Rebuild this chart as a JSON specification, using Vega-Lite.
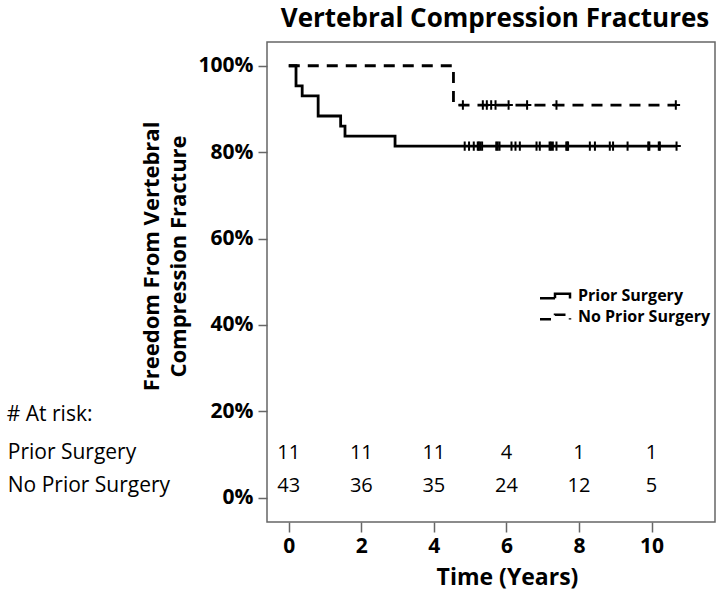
{
  "$schema": "https://vega.github.io/schema/vega-lite/v6.json",
  "width": 448,
  "height": 480,
  "autosize": {"type": "none"},
  "padding": {"left": 267, "top": 42, "right": 9, "bottom": 78},
  "background": "white",
  "config": {
    "view": {"stroke": "#666666", "strokeWidth": 1.5},
    "font": "Open Sans",
    "axis": {
      "grid": false,
      "domain": false,
      "tickColor": "#666666",
      "tickWidth": 1.5,
      "labelFont": "Open Sans",
      "labelFontWeight": "bold",
      "labelFontSize": 21,
      "labelColor": "black",
      "titleFont": "Open Sans",
      "titleColor": "black",
      "titleFontWeight": "bold"
    },
    "legend": {"padding": 0}
  },
  "title": {
    "text": "Vertebral Compression Fractures",
    "font": "Open Sans",
    "fontSize": 26,
    "fontWeight": "bold",
    "color": "black",
    "offset": 10,
    "dx": 4
  },
  "datasets": {
    "km": [
      {"group": "Prior Surgery", "t": 0, "s": 1},
      {"group": "Prior Surgery", "t": 0.2, "s": 0.9535},
      {"group": "Prior Surgery", "t": 0.37, "s": 0.9302},
      {"group": "Prior Surgery", "t": 0.81, "s": 0.8837},
      {"group": "Prior Surgery", "t": 1.43, "s": 0.8605},
      {"group": "Prior Surgery", "t": 1.55, "s": 0.8372},
      {"group": "Prior Surgery", "t": 2.93, "s": 0.814},
      {"group": "Prior Surgery", "t": 10.69, "s": 0.814},
      {"group": "No Prior Surgery", "t": 0, "s": 1},
      {"group": "No Prior Surgery", "t": 4.54, "s": 0.9091},
      {"group": "No Prior Surgery", "t": 10.67, "s": 0.9091}
    ],
    "censor": [
      {"group": "Prior Surgery", "t": 4.85, "s": 0.814},
      {"group": "Prior Surgery", "t": 4.97, "s": 0.814},
      {"group": "Prior Surgery", "t": 5.1, "s": 0.814},
      {"group": "Prior Surgery", "t": 5.21, "s": 0.814},
      {"group": "Prior Surgery", "t": 5.24, "s": 0.814},
      {"group": "Prior Surgery", "t": 5.28, "s": 0.814},
      {"group": "Prior Surgery", "t": 5.33, "s": 0.814},
      {"group": "Prior Surgery", "t": 5.72, "s": 0.814},
      {"group": "Prior Surgery", "t": 5.76, "s": 0.814},
      {"group": "Prior Surgery", "t": 5.81, "s": 0.814},
      {"group": "Prior Surgery", "t": 6.14, "s": 0.814},
      {"group": "Prior Surgery", "t": 6.25, "s": 0.814},
      {"group": "Prior Surgery", "t": 6.37, "s": 0.814},
      {"group": "Prior Surgery", "t": 6.83, "s": 0.814},
      {"group": "Prior Surgery", "t": 6.92, "s": 0.814},
      {"group": "Prior Surgery", "t": 7.19, "s": 0.814},
      {"group": "Prior Surgery", "t": 7.23, "s": 0.814},
      {"group": "Prior Surgery", "t": 7.28, "s": 0.814},
      {"group": "Prior Surgery", "t": 7.38, "s": 0.814},
      {"group": "Prior Surgery", "t": 7.65, "s": 0.814},
      {"group": "Prior Surgery", "t": 7.68, "s": 0.814},
      {"group": "Prior Surgery", "t": 7.7, "s": 0.814},
      {"group": "Prior Surgery", "t": 8.3, "s": 0.814},
      {"group": "Prior Surgery", "t": 8.44, "s": 0.814},
      {"group": "Prior Surgery", "t": 8.85, "s": 0.814},
      {"group": "Prior Surgery", "t": 8.94, "s": 0.814},
      {"group": "Prior Surgery", "t": 9.34, "s": 0.814},
      {"group": "Prior Surgery", "t": 9.91, "s": 0.814},
      {"group": "Prior Surgery", "t": 9.94, "s": 0.814},
      {"group": "Prior Surgery", "t": 10.2, "s": 0.814},
      {"group": "Prior Surgery", "t": 10.23, "s": 0.814},
      {"group": "Prior Surgery", "t": 10.69, "s": 0.814},
      {"group": "No Prior Surgery", "t": 4.8, "s": 0.9091},
      {"group": "No Prior Surgery", "t": 5.35, "s": 0.9091},
      {"group": "No Prior Surgery", "t": 5.46, "s": 0.9091},
      {"group": "No Prior Surgery", "t": 5.58, "s": 0.9091},
      {"group": "No Prior Surgery", "t": 5.7, "s": 0.9091},
      {"group": "No Prior Surgery", "t": 6.06, "s": 0.9091},
      {"group": "No Prior Surgery", "t": 6.57, "s": 0.9091},
      {"group": "No Prior Surgery", "t": 7.38, "s": 0.9091},
      {"group": "No Prior Surgery", "t": 10.67, "s": 0.9091}
    ],
    "risk": [
      {"group": "Prior Surgery", "t": 0, "n": 11},
      {"group": "Prior Surgery", "t": 2, "n": 11},
      {"group": "Prior Surgery", "t": 4, "n": 11},
      {"group": "Prior Surgery", "t": 6, "n": 4},
      {"group": "Prior Surgery", "t": 8, "n": 1},
      {"group": "Prior Surgery", "t": 10, "n": 1},
      {"group": "No Prior Surgery", "t": 0, "n": 43},
      {"group": "No Prior Surgery", "t": 2, "n": 36},
      {"group": "No Prior Surgery", "t": 4, "n": 35},
      {"group": "No Prior Surgery", "t": 6, "n": 24},
      {"group": "No Prior Surgery", "t": 8, "n": 12},
      {"group": "No Prior Surgery", "t": 10, "n": 5}
    ],
    "header": [{"label": "# At risk:"}]
  },
  "layer": [
    {
      "data": {"name": "km"},
      "mark": {"type": "line", "interpolate": "step-after", "color": "black", "strokeWidth": 2.8},
      "encoding": {
        "x": {
          "field": "t",
          "type": "quantitative",
          "scale": {"domain": [-0.6, 11.75], "nice": false, "zero": false},
          "axis": {
            "values": [0, 2, 4, 6, 8, 10],
            "tickSize": 10,
            "labelPadding": 3,
            "title": "Time (Years)",
            "titleFontSize": 23,
            "titleX": 240,
            "titlePadding": 10
          }
        },
        "y": {
          "field": "s",
          "type": "quantitative",
          "scale": {"domain": [-0.056, 1.055], "nice": false, "zero": false},
          "axis": {
            "values": [0, 0.2, 0.4, 0.6, 0.8, 1],
            "format": ".0%",
            "tickSize": 9,
            "labelPadding": 5,
            "title": ["Freedom From Vertebral", "Compression Fracture"],
            "titleFontSize": 22,
            "titleLineHeight": 27,
            "titleY": 214,
            "titlePadding": 8
          }
        },
        "strokeDash": {
          "field": "group",
          "type": "nominal",
          "scale": {"domain": ["Prior Surgery", "No Prior Surgery"], "range": [[1, 0], [11, 8]]},
          "legend": {
            "orient": "none",
            "legendX": 280,
            "legendY": 246,
            "title": null,
            "symbolType": "M-3,0.45H0V-0.45H3V0.5",
            "symbolSize": 100,
            "symbolStrokeWidth": 2.5,
            "symbolStrokeColor": "black",
            "symbolFillColor": "transparent",
            "labelFont": "Open Sans",
            "labelFontSize": 16,
            "labelFontWeight": "bold",
            "labelColor": "black",
            "labelOffset": 15,
            "rowPadding": 5
          }
        }
      }
    },
    {
      "data": {"name": "censor"},
      "mark": {"type": "point", "shape": "M0,-1V1M-0.9,0H0.9", "size": 90, "filled": false, "stroke": "black", "strokeWidth": 2, "opacity": 1},
      "encoding": {
        "x": {"field": "t", "type": "quantitative"},
        "y": {"field": "s", "type": "quantitative"}
      }
    },
    {
      "data": {"name": "risk"},
      "transform": [{"filter": "datum.group === 'Prior Surgery'"}],
      "mark": {"type": "text", "font": "Open Sans", "fontSize": 20, "align": "center", "color": "black"},
      "encoding": {
        "x": {"field": "t", "type": "quantitative"},
        "y": {"datum": 0.1035},
        "text": {"field": "n", "type": "quantitative"}
      }
    },
    {
      "data": {"name": "risk"},
      "transform": [{"filter": "datum.group === 'No Prior Surgery'"}],
      "mark": {"type": "text", "font": "Open Sans", "fontSize": 20, "align": "center", "color": "black"},
      "encoding": {
        "x": {"field": "t", "type": "quantitative"},
        "y": {"datum": 0.0277},
        "text": {"field": "n", "type": "quantitative"}
      }
    },
    {
      "data": {"name": "risk"},
      "transform": [{"filter": "datum.t === 0 && datum.group === 'Prior Surgery'"}],
      "mark": {"type": "text", "font": "Open Sans", "fontSize": 21, "align": "left", "color": "black", "dx": -281},
      "encoding": {
        "x": {"datum": 0},
        "y": {"datum": 0.1035},
        "text": {"field": "group", "type": "nominal"}
      }
    },
    {
      "data": {"name": "risk"},
      "transform": [{"filter": "datum.t === 0 && datum.group === 'No Prior Surgery'"}],
      "mark": {"type": "text", "font": "Open Sans", "fontSize": 21, "align": "left", "color": "black", "dx": -281},
      "encoding": {
        "x": {"datum": 0},
        "y": {"datum": 0.0277},
        "text": {"field": "group", "type": "nominal"}
      }
    },
    {
      "data": {"name": "header"},
      "mark": {"type": "text", "font": "Open Sans", "fontSize": 21, "align": "left", "color": "black", "dx": -282},
      "encoding": {
        "x": {"datum": 0},
        "y": {"datum": 0.191},
        "text": {"field": "label", "type": "nominal"}
      }
    }
  ]
}
